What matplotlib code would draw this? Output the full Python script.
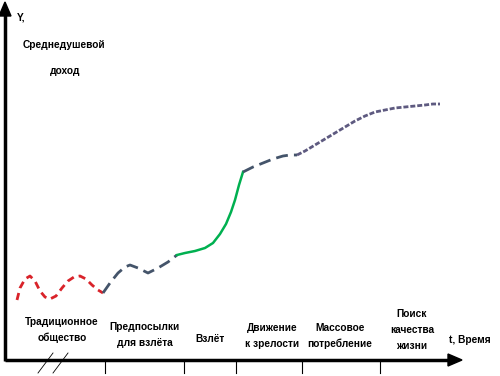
import matplotlib.pyplot as plt
from matplotlib.patches import FancyArrow

# curve (x = time, y = income, in picture units, y grows downward)
trad_x = [17, 20, 25, 30, 35, 40, 45, 50, 56, 62, 68, 74, 80, 86, 92, 98, 103]
trad_y = [300, 288, 279, 276, 281, 291, 297, 299, 296, 288, 281, 277, 276, 279, 285, 290, 293]
pre_x = [103, 110, 118, 125, 130, 138, 148, 158, 168, 177]
pre_y = [293, 283, 273, 267, 265, 268, 273, 268, 262, 255]
take_x = [177, 185, 195, 205, 213, 220, 226, 231, 235, 239, 243]
take_y = [255, 253, 251, 248, 243, 234, 224, 212, 200, 185, 172]
mat_x = [243, 253, 263, 273, 283, 290, 297]
mat_y = [172, 167, 163, 159, 156, 155, 155]
qual_x = [297, 305, 315, 325, 335, 345, 355, 365, 375, 385, 395, 405, 415, 425, 433, 440]
qual_y = [155, 151, 145, 139, 133, 127, 121, 116, 112, 110, 108, 107, 106, 105, 104, 104]

stage_ticks = [105, 184, 236, 302, 380]
stage_labels = ["Традиционное\nобщество", "Предпосылки\nдля взлёта", "Взлёт",
                "Движение\nк зрелости", "Массовое\nпотребление", "Поиск\nкачества\nжизни"]
stage_pos = [(62, 330), (145, 335), (210, 339), (272, 336), (340, 336), (412, 330)]

fig = plt.figure(figsize=(5, 3.76), dpi=100)
ax = fig.add_axes([0, 0, 1, 1])
ax.set_xlim(0, 500)
ax.set_ylim(376, 0)
ax.axis("off")

ax.plot(trad_x, trad_y, color="#D9232A", lw=2, dashes=(2.6, 1.8))
ax.plot(pre_x, pre_y, color="#44546A", lw=2, dashes=(4.3, 2.2))
ax.plot(take_x, take_y, color="#00B050", lw=1.8)
ax.plot(mat_x, mat_y, color="#44546A", lw=2, dashes=(4.3, 2.2))
ax.plot(qual_x, qual_y, color="#5E5A80", lw=2, dashes=(1.8, 0.7))

# axes with arrows
ax.plot([5, 452], [360, 360], color="black", lw=2.5, solid_capstyle="butt")
ax.plot([5, 5], [361, 12], color="black", lw=2.5, solid_capstyle="butt")
ax.add_patch(FancyArrow(448, 360, 14, 0, width=0.1, head_width=12, head_length=14,
                        length_includes_head=True, color="black"))
ax.add_patch(FancyArrow(5, 16, 0, -14, width=0.1, head_width=12, head_length=14,
                        length_includes_head=True, color="black"))

for t in stage_ticks:
    ax.plot([t, t], [360, 373], color="black", lw=0.8)
# break marks
for x0 in [38, 53]:
    ax.plot([x0, x0 + 15], [373, 353], color="black", lw=0.6)

fs = 7.3
fam = "Liberation Sans"
for lab, (x, y) in zip(stage_labels, stage_pos):
    ax.text(x, y, lab, ha="center", va="center", fontsize=fs, fontweight="bold",
            family=fam, linespacing=1.7)

ax.text(17, 17, "Y,", fontsize=fs, fontweight="bold", va="center", family=fam)
ax.text(23, 45, "Среднедушевой", fontsize=fs, fontweight="bold", va="center", family=fam)
ax.text(65, 71, "доход", fontsize=fs, fontweight="bold", va="center", ha="center", family=fam)
ax.text(449, 340, "t, Время", fontsize=fs, fontweight="bold", va="center", family=fam)

plt.savefig("out.png", dpi=100)
